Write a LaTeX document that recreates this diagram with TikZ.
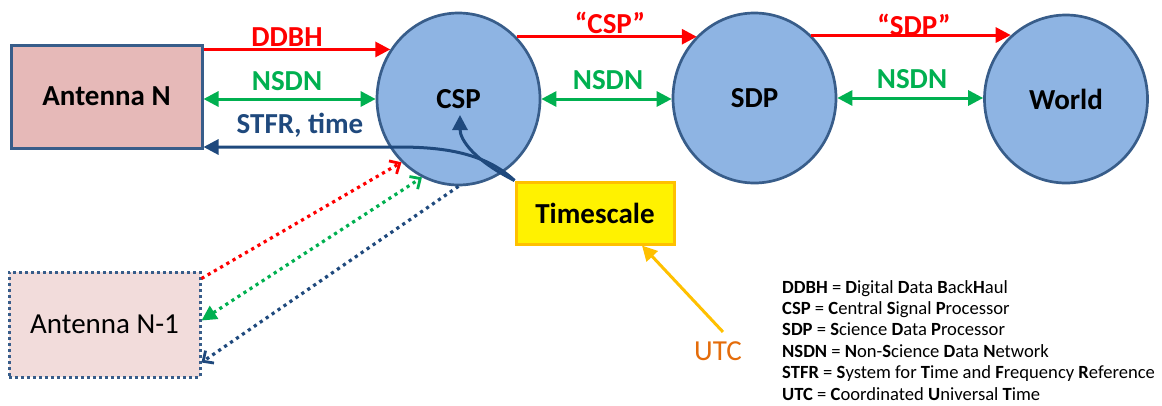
\documentclass[tikz,border=0pt]{standalone}
\usepackage{fontspec}
\setmainfont{Carlito}
\usetikzlibrary{arrows.meta,shapes.geometric}

\definecolor{nodeblue}{HTML}{8EB4E3}
\definecolor{edgeblue}{HTML}{385D8A}
\definecolor{antfill}{HTML}{E6B9B8}
\definecolor{antfilllight}{HTML}{F2DCDB}
\definecolor{netgreen}{HTML}{00B050}
\definecolor{timeblue}{HTML}{1F497D}
\definecolor{utcorange}{HTML}{E46C0A}
\definecolor{goldline}{HTML}{FFC000}

\tikzset{
  >={Triangle[length=15pt,width=15pt]},
  openv/.tip={Straight Barb[length=8pt,width=15pt,line width=2.8pt]},
  bigfont/.style={font=\fontsize{29}{32}\selectfont\bfseries},
  proc/.style={ellipse, draw=edgeblue, line width=2.7pt, fill=nodeblue,
    minimum width=163pt, minimum height=172pt, inner sep=0pt, bigfont},
  antbox/.style={rectangle, draw=edgeblue, line width=3pt, fill=antfill,
    minimum width=191pt, minimum height=103pt, bigfont},
  link/.style={line width=3pt},
  dotlink/.style={line width=3.2pt, dash pattern=on 3.2pt off 4pt},
  lbl/.style={bigfont, anchor=base, inner sep=0pt},
}

\begin{document}
\begin{tikzpicture}[x=1pt,y=-1pt]
\useasboundingbox (0,0) rectangle (1162,405);

% main blocks
\node[antbox] (antN) at (106.5,96.5) {Antenna N};
\node[proc] (csp) at (458.5,99) {CSP};
\node[proc, minimum height=170pt] (sdp) at (754.5,98) {SDP};
\node[proc, minimum height=168pt] (world) at (1066,99) {World};
\node[rectangle, draw=goldline, line width=3pt, fill=yellow,
      minimum width=158pt, minimum height=62pt, bigfont] (ts) at (595,213) {Timescale};
\node[rectangle, draw=edgeblue, line width=3pt, dash pattern=on 2.8pt off 3.2pt,
      fill=antfilllight, minimum width=191pt, minimum height=105pt,
      font=\fontsize{29}{32}\selectfont] (antN1) at (104.5,324.5) {Antenna N-1};

% antenna N <-> CSP
\draw[red, link, ->] (antN.north east |- csp.144) -- (csp.144);
\draw[netgreen, link, <->] (antN.east |- csp.west) -- (csp.west);
\coordinate (stfr) at (398,147);
\draw[timeblue, link, ->] (ts.north west) .. controls +(-30,-28) and +(45,0) .. (stfr)
  -- (antN.east |- stfr);
\coordinate (cspin) at (460,115);
\draw[timeblue, link, ->] (ts.north west) .. controls +(-40,-20) and +(0,25) .. (cspin);

% CSP -> SDP -> World
\draw[red, link, ->] (csp.47) -- (csp.47 -| sdp.133);
\draw[netgreen, link, <->] (csp.east) -- (csp.east -| sdp.west);
\draw[red, link, ->] (sdp.48) -- (sdp.48 -| world.131);
\draw[netgreen, link, <->] (sdp.east) -- (sdp.east -| world.west);

% antenna N-1 <-> CSP
\draw[red, dotlink, -openv] ([yshift=-8pt]antN1.north east) -- (csp.228);
\draw[netgreen, dotlink, <-openv] ([yshift=4pt]antN1.east) -- (csp.245);
\draw[timeblue, dotlink, -openv] (csp.south) -- ([yshift=-38pt]antN1.east);

% UTC feed
\node[font=\fontsize{29}{32}\selectfont, text=utcorange] (utc) at (718,351) {UTC};
\draw[goldline, link, ->] ([shift={(5pt,6pt)}]utc.north) -- ([xshift=47pt]ts.south);

% link labels
\node[lbl, text=red] (lddbh) at (287,46) {DDBH};
\node[lbl, text=netgreen] (lnsdn1) at (287,90) {NSDN};
\node[lbl, text=timeblue] (lstfr) at (300,133) {STFR, time};
\node[lbl, text=red] (lcsp) at (610,33) {“CSP”};
\node[lbl, text=netgreen] (lnsdn2) at (608,89) {NSDN};
\node[lbl, text=red] (lsdp) at (914,35) {“SDP”};
\node[lbl, text=netgreen] (lnsdn3) at (912,88) {NSDN};

% abbreviations
\node[anchor=north west, align=left, inner sep=0pt,
      font=\fontsize{18.6}{21.4}\selectfont] (legend) at (782,280) {%
\textbf{DDBH} = \textbf{D}igital \textbf{D}ata \textbf{B}ack\textbf{H}aul\\
\textbf{CSP} = \textbf{C}entral \textbf{S}ignal \textbf{P}rocessor\\
\textbf{SDP} = \textbf{S}cience \textbf{D}ata \textbf{P}rocessor\\
\textbf{NSDN} = \textbf{N}on-\textbf{S}cience \textbf{D}ata \textbf{N}etwork\\
\textbf{STFR} = \textbf{S}ystem for \textbf{T}ime and \textbf{F}requency \textbf{R}eference\\
\textbf{UTC} = \textbf{C}oordinated \textbf{U}niversal \textbf{T}ime};
\end{tikzpicture}
\end{document}
